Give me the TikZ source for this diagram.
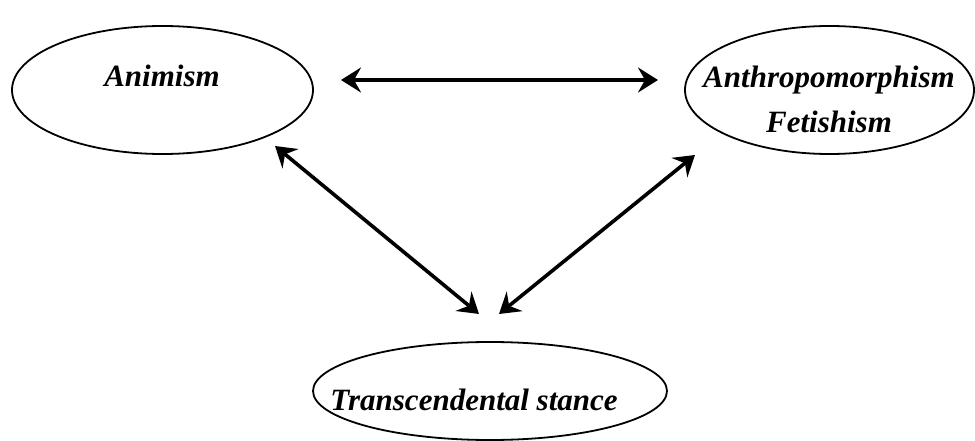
\documentclass[tikz,border=0pt]{standalone}
\usepackage{fontspec}
\setmainfont{Liberation Serif}
\usetikzlibrary{shapes.geometric,arrows.meta}
\begin{document}
\begin{tikzpicture}[x=1pt,y=-1pt,
  oval/.style={draw,ellipse,line width=1.8pt,inner sep=0pt},
  lbl/.style={font=\fontsize{31}{45}\selectfont\bfseries\itshape,align=center,inner sep=0pt},
  link/.style={line width=3.6pt,{Stealth[length=20pt,width=25pt,inset=7pt]}-{Stealth[length=20pt,width=25pt,inset=7pt]}}]
\useasboundingbox (0,0) rectangle (975,441);
\node[oval,minimum width=301pt,minimum height=128pt] (ani) at (162.5,90) {};
\node[oval,minimum width=289pt,minimum height=128pt] (ant) at (829.5,90) {};
\node[oval,minimum width=354pt,minimum height=98pt] (tra) at (490,391) {};
\node[lbl] (tani) at (162,76) {Animism};
\node[lbl] (tant) at (829,99) {Anthropomorphism\\Fetishism};
\node[lbl] (ttra) at (474,400) {Transcendental stance};
\coordinate (h1) at (341,80);
\coordinate (h2) at (658,80);
\coordinate (l1) at (275,146);
\coordinate (l2) at (479,314);
\coordinate (r1) at (695,155);
\coordinate (r2) at (499,314);
\draw[link] (h1) -- (h2);
\draw[link] (l1) -- (l2);
\draw[link] (r1) -- (r2);
\end{tikzpicture}
\end{document}
